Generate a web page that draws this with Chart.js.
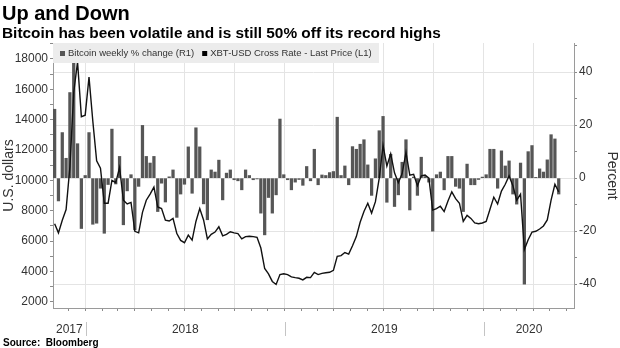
<!DOCTYPE html>
<html>
<head>
<meta charset="utf-8">
<title>Up and Down</title>
<script src="https://cdn.jsdelivr.net/npm/chart.js@4.4.1/dist/chart.umd.min.js"></script>
<style>
    html, body { margin: 0; padding: 0; background: #fff; }
    #wrap { position: relative; width: 620px; height: 348px; }
</style>
</head>
<body>
<div id="wrap"><canvas id="chart" width="620" height="348"></canvas></div>
<script>
// Bitcoin weekly chart (Bloomberg style)

const TITLE = 'Up and Down';
const SUBTITLE = 'Bitcoin has been volatile and is still 50% off its record highs';
const SOURCE = 'Source:  Bloomberg';
const FONT = "'Liberation Sans', Arial, sans-serif";

// x axis runs in days counted from 1 Jan 2018
const X_MIN = -60;
const X_MAX = 895;
const FIRST_WEEK_DAY = -57;   // first weekly observation, early Nov 2017

const yearLabels = ['2017', '2018', '2019', '2020'];

// Bitcoin weekly % change (R1)
const weeklyChange = [
    26, -8.6, 17.2, 7.5, 32.3, 46, 13, -19, 1, 17.2,
    -17.4, -17, -3.8, -20.8, -2.4, 18.5, -2.2, 8.2, -17.6, -4.8,
    1.3, -19.5, -3.1, 19.9, 8.2, 5.7, 8.2, -12.6, -1.9, -9,
    0.5, 3.1, -14.8, -6, -2.3, 11.8, -5.7, 19, 11.8, -9.7,
    -15.7, 3.1, 2.3, 6.8, -8.2, 1.9, 3.1, -0.6, -1, -4.4,
    3.1, 1, -0.6, -0.3, -13.2, -21.4, -7.3, -13.2, -6.3, 22.3,
    1.3, -0.6, -4.4, -1.5, -0.5, -2.7, 4.4, -1, 10.9, -2.5,
    1.2, 1, 2.1, 2.5, 23, 1, 4.6, -2.5, 11.9, 10.9,
    12.8, 14.5, 5, -6.5, 7.3, 17.9, 23.3, -9.1, 9, -10.7,
    -6.3, 6, 14.5, -12, 0.4, -6.5, 7.9, 0.6, -1.5, -20,
    1.3, 2.3, -4.4, 8.2, 8.2, -3.1, -3.8, -12.6, 5.3, -2.5,
    -2.5, -0.5, 0.4, 1.3, 10.9, 10.9, -3.8, 10.3, 4.6, 6.5,
    -6, -9.8, 5.7, -40, 10, 12.3, 0.3, 3.5, 2.3, 6.9,
    16.4, 14.8, -6
];

// XBT-USD Cross Rate - Last Price (L1)
const lastPrice = [
    7150, 6550, 7380, 8080, 10900, 15800, 17800, 14200, 14300, 16800,
    13900, 11300, 10800, 8500, 8500, 10000, 9850, 10850, 8700, 8450,
    8550, 6650, 6550, 7900, 8700, 9100, 9560, 8250, 8150, 7380,
    7330, 7500, 6500, 6050, 5900, 6400, 6070, 7300, 8150, 7400,
    6150, 6450, 6600, 6950, 6350, 6450, 6620, 6550, 6500, 6150,
    6300, 6320, 6300, 6250, 5550, 4200, 3850, 3350, 3150, 3800,
    3850, 3800, 3650, 3600, 3560, 3450, 3620, 3600, 3950, 3800,
    3880, 3920, 3950, 4080, 5000, 5050, 5250, 5150, 5700, 6300,
    7250, 7950, 8500, 7850, 8600, 10150, 12300, 10950, 11750, 10500,
    9850, 10450, 11850, 10350, 10400, 9650, 10300, 10350, 10150, 8050,
    8150, 8300, 7950, 8650, 9250, 8800, 8500, 7300, 7700, 7500,
    7200, 7150, 7200, 7300, 8100, 8900, 8450, 9300, 9750, 10300,
    9650, 8700, 9100, 5450, 6100, 6600, 6650, 6800, 7000, 7400,
    8700, 9750, 9250
];

const leftTicks = [2000, 3000, 4000, 5000, 6000, 7000, 8000, 9000, 10000, 11000,
    12000, 13000, 14000, 15000, 16000, 17000, 18000, 19000];
const rightTicks = [-40, -30, -20, -10, 0, 10, 20, 30, 40, 50];

function dayOf(y, m, d) {
    return (Date.UTC(y, m, d) - Date.UTC(2018, 0, 1)) / 86400000;
}

// month starts inside the axis range
const months = [];
for (let y = 2017; y <= 2020; y++) {
    for (let m = 0; m < 12; m++) {
        const d = dayOf(y, m, 1);
        if (d >= X_MIN && d <= X_MAX) {
            months.push({ day: d, quarter: m % 3 === 0, yearStart: m === 0 });
        }
    }
}

// year labels sit in the middle of the visible part of each year
const yearLabelDays = yearLabels.map(label => {
    const y = Number(label);
    const a = Math.max(X_MIN, dayOf(y, 0, 1));
    const b = Math.min(X_MAX, dayOf(y + 1, 0, 1));
    return (a + b) / 2;
});

const monthDays = months.map(m => m.day);
const quarterDays = months.filter(m => m.quarter).map(m => m.day);
const yearStartDays = months.filter(m => m.yearStart).map(m => m.day);

const weekDay = i => FIRST_WEEK_DAY + 7 * i;
const changeData = weeklyChange.map((v, i) => ({ x: weekDay(i), y: v }));
const priceData = lastPrice.map((v, i) => ({ x: weekDay(i), y: v }));

// titles, legend box and year separators
const decorations = {
    id: 'decorations',
    afterDraw(chart) {
        const ctx = chart.ctx;
        const area = chart.chartArea;
        ctx.save();

        ctx.fillStyle = '#000';
        ctx.textBaseline = 'alphabetic';
        ctx.textAlign = 'left';
        ctx.font = `bold 20px ${FONT}`;
        ctx.fillText(TITLE, 2, 20);
        ctx.font = `bold 15.4px ${FONT}`;
        ctx.fillText(SUBTITLE, 2, 38);
        ctx.font = `bold 10px ${FONT}`;
        ctx.fillText(SOURCE, 3, 346);

        // legend
        ctx.fillStyle = '#ececec';
        ctx.fillRect(area.left, area.top, 326, 20);
        ctx.font = `9.5px ${FONT}`;
        ctx.textBaseline = 'middle';
        let x = area.left + 7;
        chart.data.datasets.forEach(ds => {
            ctx.fillStyle = ds.legendColor;
            ctx.fillRect(x, area.top + 8, 5, 5);
            x += 8;
            ctx.fillStyle = '#333';
            ctx.fillText(ds.label, x, area.top + 10.5);
            x += ctx.measureText(ds.label).width + 8;
        });

        // year separators under the axis
        const xs = chart.scales.x;
        ctx.strokeStyle = '#c4c4c4';
        ctx.lineWidth = 1;
        yearStartDays.forEach(d => {
            const px = Math.round(xs.getPixelForValue(d)) + 0.5;
            ctx.beginPath();
            ctx.moveTo(px, area.bottom + 14);
            ctx.lineTo(px, area.bottom + 28);
            ctx.stroke();
        });

        ctx.restore();
    }
};

const tickFont = { family: FONT, size: 12 };

new Chart(document.getElementById('chart'), {
    type: 'bar',
    data: {
        datasets: [
            {
                type: 'bar',
                label: 'Bitcoin weekly % change (R1)',
                data: changeData,
                yAxisID: 'yR',
                backgroundColor: '#565656',
                legendColor: '#565656',
                barThickness: 2.6,
                order: 1
            },
            {
                type: 'line',
                label: 'XBT-USD Cross Rate - Last Price (L1)',
                data: priceData,
                yAxisID: 'yL',
                borderColor: '#111',
                legendColor: '#000',
                borderWidth: 1.4,
                pointRadius: 0,
                tension: 0,
                order: 0
            }
        ]
    },
    options: {
        responsive: false,
        animation: false,
        devicePixelRatio: 1,
        layout: { padding: { top: 43, left: 0, right: 0, bottom: 0 } },
        plugins: {
            legend: { display: false },
            tooltip: { enabled: false }
        },
        scales: {
            x: {
                type: 'linear',
                position: 'bottom',
                min: X_MIN,
                max: X_MAX,
                offset: false,
                afterBuildTicks: s => {
                    s.ticks = monthDays.concat(yearLabelDays).map(v => ({ value: v }));
                },
                ticks: {
                    autoSkip: false,
                    maxRotation: 0,
                    minRotation: 0,
                    padding: 11,
                    font: tickFont,
                    color: '#333',
                    callback: v => {
                        const k = yearLabelDays.indexOf(v);
                        return k >= 0 ? yearLabels[k] : '';
                    }
                },
                grid: {
                    offset: false,
                    tickLength: 3,
                    color: c => (c.tick && quarterDays.includes(c.tick.value)) ? '#e4e4e4' : 'rgba(0,0,0,0)',
                    tickColor: c => (c.tick && monthDays.includes(c.tick.value)) ? '#8a8a8a' : 'rgba(0,0,0,0)'
                },
                border: { display: true, color: '#9a9a9a' },
                afterFit: s => {
                    s.height = 40;
                    s.paddingLeft = 0;
                    s.paddingRight = 0;
                }
            },
            yL: {
                type: 'linear',
                position: 'left',
                min: 1600,
                max: 19050,
                afterBuildTicks: s => {
                    s.ticks = leftTicks.map(v => ({ value: v }));
                },
                ticks: {
                    autoSkip: false,
                    padding: 2,
                    font: tickFont,
                    color: '#333',
                    callback: v => (v % 2000 === 0 ? String(v) : '')
                },
                grid: { drawOnChartArea: false, tickLength: 3, tickColor: '#8a8a8a' },
                border: { display: true, color: '#9a9a9a' },
                title: {
                    display: true,
                    text: 'U.S. dollars',
                    color: '#333',
                    font: { family: FONT, size: 14 },
                    padding: { top: 1, bottom: 0 }
                },
                afterFit: s => {
                    s.width = 53;
                    s.paddingTop = 0;
                    s.paddingBottom = 0;
                }
            },
            yR: {
                type: 'linear',
                position: 'right',
                min: -49,
                max: 51,
                afterBuildTicks: s => {
                    s.ticks = rightTicks.map(v => ({ value: v }));
                },
                ticks: {
                    autoSkip: false,
                    padding: 2,
                    font: tickFont,
                    color: '#333',
                    callback: v => (v % 20 === 0 ? String(v) : '')
                },
                grid: {
                    tickLength: 3,
                    tickColor: '#8a8a8a',
                    color: c => (c.tick && c.tick.value % 20 === 0) ? '#e4e4e4' : 'rgba(0,0,0,0)'
                },
                border: { display: true, color: '#9a9a9a' },
                title: {
                    display: true,
                    text: 'Percent',
                    color: '#333',
                    font: { family: FONT, size: 14 },
                    padding: { top: 0, bottom: 0 }
                },
                afterFit: s => {
                    s.width = 46;
                    s.paddingTop = 0;
                    s.paddingBottom = 0;
                }
            }
        }
    },
    plugins: [decorations]
});
</script>
</body>
</html>
